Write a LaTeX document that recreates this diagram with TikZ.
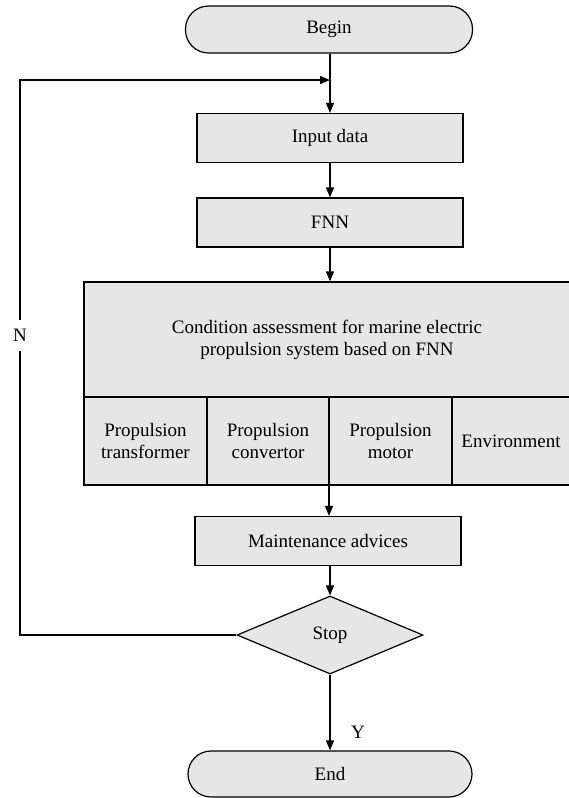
\documentclass[tikz,border=0pt]{standalone}
\usepackage{fontspec}
\setmainfont{Liberation Serif}
\newfontfamily\tnr{Liberation Serif}
\usetikzlibrary{shapes.geometric,arrows.meta}
\definecolor{boxgray}{HTML}{E6E6E6}
\newcommand\fsz{\tnr\fontsize{19}{22}\selectfont}
\begin{document}
\begin{tikzpicture}[x=1pt,y=-1pt,
  every node/.style={font=\fsz},
  box/.style={draw, fill=boxgray, line width=1.2pt, minimum width=266pt, minimum height=49pt, inner sep=0pt},
  term/.style={draw, fill=boxgray, line width=1.2pt, rounded corners=23pt, minimum width=287pt, minimum height=47pt, inner sep=0pt},
  cell/.style={draw, fill=boxgray, line width=1.2pt, inner sep=0pt, align=center},
  dec/.style={diamond, draw, fill=boxgray, line width=1.2pt, aspect=2.385, minimum width=186pt, minimum height=78pt, inner sep=0pt},
  arr/.style={-{Triangle[length=10pt,width=8pt]}, line width=1.2pt},
  lbl/.style={inner sep=1pt}]
\useasboundingbox (0,0) rectangle (569,798);
\node[term] (begin) at (329,29.5) {Begin};
\node[box] (input) at (330,138) {Input data};
\node[box] (fnn) at (330,222.5) {FNN};
\node[cell, minimum width=486pt, minimum height=115pt] (cond) at (327,339.5) {Condition assessment for marine electric\\propulsion system based on FNN};
\node[cell, minimum width=123pt, minimum height=88pt] (c1) at (145.5,441) {Propulsion\\transformer};
\node[cell, minimum width=122pt, minimum height=88pt] (c2) at (268,441) {Propulsion\\convertor};
\node[cell, minimum width=123pt, minimum height=88pt] (c3) at (390.5,441) {Propulsion\\motor};
\node[cell, minimum width=118pt, minimum height=88pt] (c4) at (511,441) {Environment};
\node[box] (maint) at (328,541) {Maintenance advices};
\node[dec] (stop) at (330,635) {Stop};
\node[term, minimum width=284pt, minimum height=46pt] (end) at (330,774) {End};
\coordinate (lb) at (20,635);
\coordinate (lt) at (20,80);
\draw[arr] (begin.south -| input.north) -- (input.north);
\draw[arr] (input) -- (fnn);
\draw[arr] (fnn.south) -- (fnn.south |- cond.north);
\draw[arr] ([xshift=0.6pt]c3.south west) -- ([xshift=0.6pt]c3.south west |- maint.north);
\draw[arr] (stop.north |- maint.south) -- (stop.north);
\draw[arr] (stop) -- (end);
\draw[arr] (stop.west) -- (lb) -- node[pos=0.54, fill=white, inner xsep=2pt, inner ysep=9pt] (n) {N} (lt) -- (input.north |- lt);
\node[lbl] (y) at (358,732) {Y};
\end{tikzpicture}
\end{document}
